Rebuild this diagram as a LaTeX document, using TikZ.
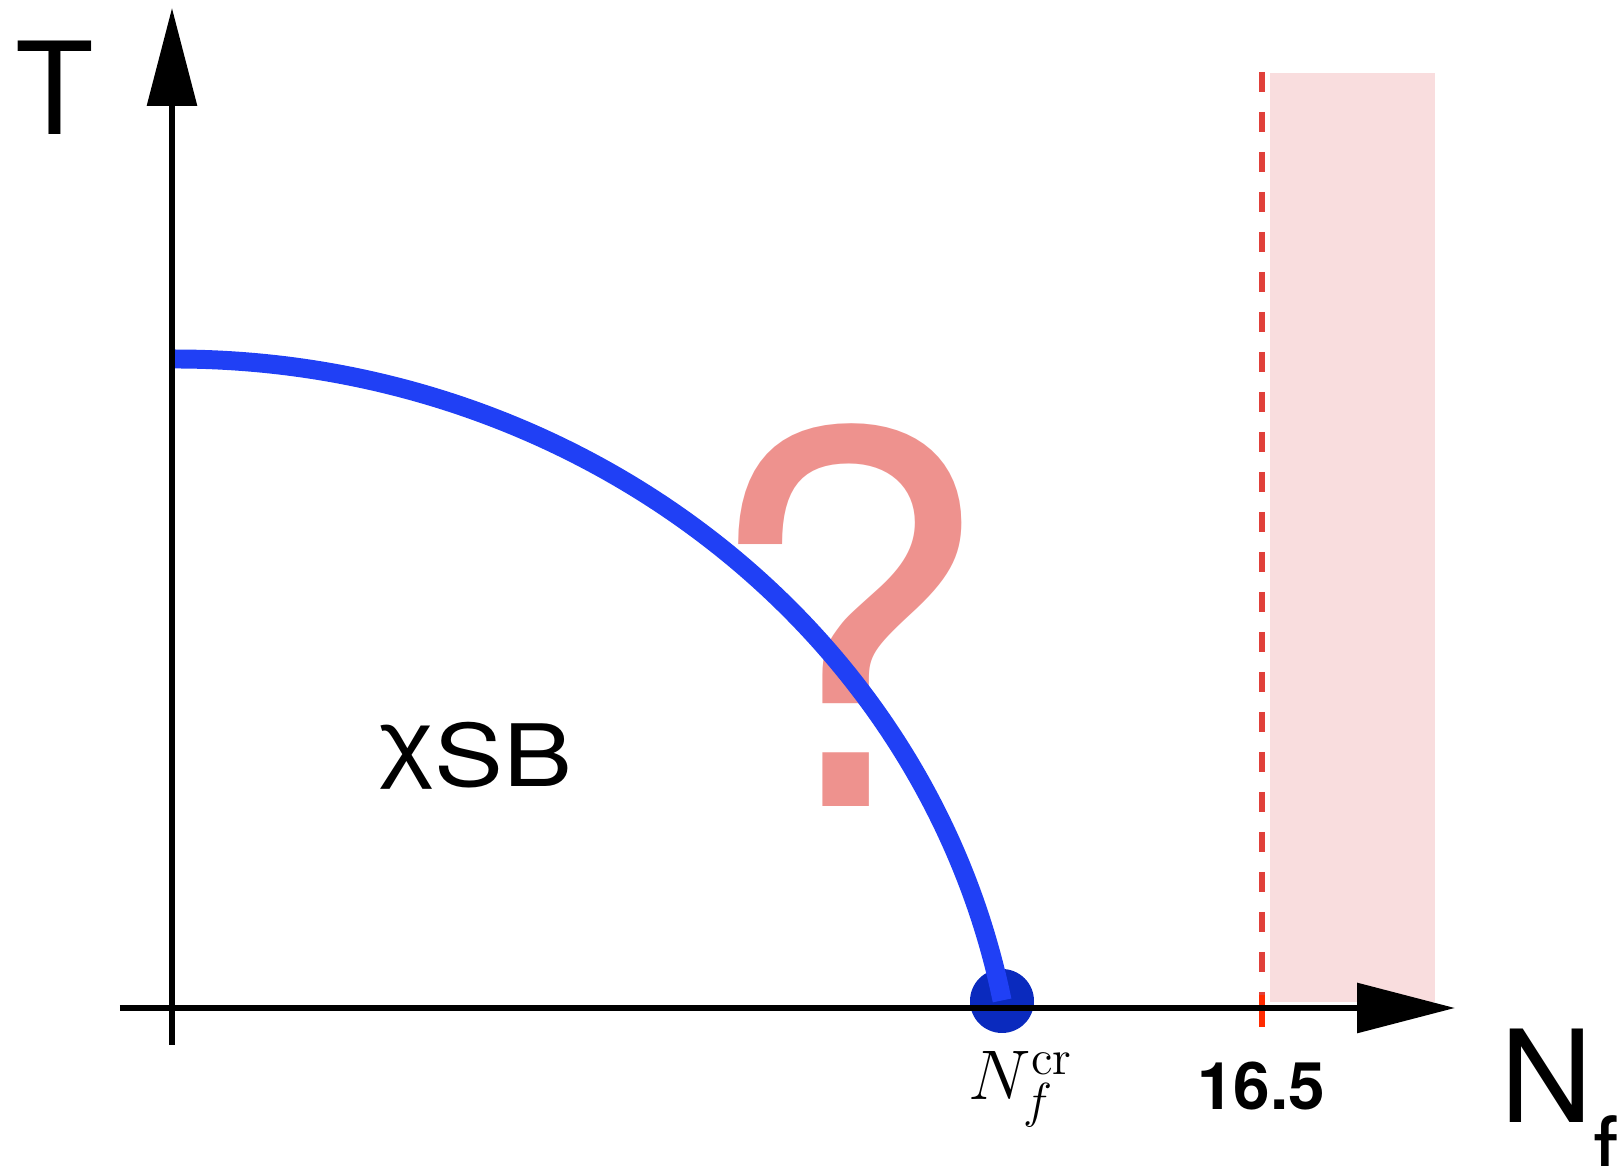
\documentclass[tikz,border=0pt]{standalone}
\usepackage{fix-cm}
\usepackage{fontspec}
\newfontfamily\helv{TeX Gyre Heros}
\newfontfamily\arial{Liberation Sans}
\usepackage{xcolor}
\usepackage{tikz}
\usetikzlibrary{positioning, arrows.meta}

\definecolor{curveblue}{RGB}{32,64,245}
\definecolor{dotblue}{RGB}{10,42,190}
\definecolor{qpink}{RGB}{238,146,142}
\definecolor{bandpink}{RGB}{249,221,222}
\definecolor{dashred}{RGB}{224,64,58}
\definecolor{tickred}{RGB}{255,42,0}

\tikzset{
  axis/.style={line width=1.75pt, -{Triangle[length=0.98cm, width=0.49cm]}},
  biglabel/.style={font=\helv\fontsize{36.5}{40}\selectfont},
}

\begin{document}
\begin{tikzpicture}
\useasboundingbox (-1.72,-1.58) rectangle (14.52,10.08);

% band beyond 16.5
\fill[bandpink] (10.98,0.06) rectangle (12.63,9.35);
\coordinate (btop) at (10.90,9.36);
\coordinate (bbot) at (10.90,0.13);
\coordinate (tick) at (10.90,-0.19);
\draw[dashred, line width=1.6pt, dash pattern=on 0.2cm off 0.2cm] (btop) -- (bbot);
\draw[tickred, line width=1.6pt] (bbot) -- (tick);

\node[font=\helv\fontsize{147}{150}\selectfont, text=qpink, anchor=base] (qm) at (6.74,2.01) {?};

% critical line
\node[circle, fill=dotblue, minimum size=0.64cm, inner sep=0pt] (crit) at (8.30,0.07) {};
\coordinate (tc) at (0.03,6.49);
\draw[curveblue, line width=5.4pt] (tc) arc[start angle=90, end angle=10.9, x radius=8.423, y radius=7.91];

% axes
\coordinate (ybot) at (0,-0.37);
\coordinate (ytop) at (0,10.0);
\coordinate (xleft) at (-0.52,0);
\coordinate (xright) at (12.83,0);
\draw[axis] (ybot) -- (ytop);
\draw[axis] (xleft) -- (xright);

\node[biglabel, anchor=base] (tlab) at (-1.175,8.73) {T};
\node[biglabel, anchor=base west, inner sep=0pt] (nflab) at (13.28,-1.15) {N\raisebox{-17pt}{\fontsize{26}{26}\selectfont f}};
\node[font=\helv\fontsize{24.5}{28}\selectfont, anchor=base] (phase) at (3.04,2.21) {\scalebox{1.2}[1]{\raisebox{4.5pt}{\arial χ}SB}};
\node[font=\helv\bfseries\fontsize{18.7}{22}\selectfont, anchor=base] (val) at (10.89,-1.02) {16.5};
\node[font=\fontsize{20}{22}\selectfont, anchor=base] (ncr) at (8.49,-0.92) {$N_f^{\mathrm{cr}}$};

\end{tikzpicture}
\end{document}
